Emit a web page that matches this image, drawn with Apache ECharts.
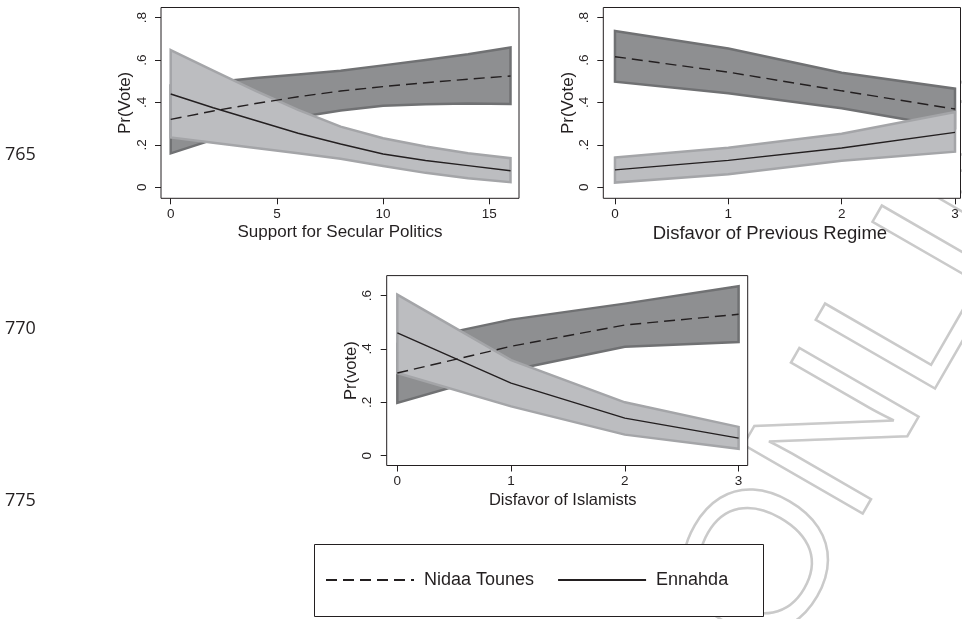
<!DOCTYPE html>
<html><head><meta charset="utf-8">
<script src="https://cdn.jsdelivr.net/npm/echarts@6/dist/echarts.min.js"></script>
<style>html,body{margin:0;padding:0;background:#fff}#c{width:962px;height:619px}</style>
</head><body><div id="c"></div><script>
// ---------- data ----------
const secularX = [0, 2, 4, 6, 8, 10, 12, 14, 16];
const secularNidaa     = [0.32, 0.36, 0.395, 0.427, 0.454, 0.475, 0.493, 0.51, 0.525];
const secularNidaaLo   = [0.16, 0.225, 0.28, 0.33, 0.362, 0.385, 0.392, 0.395, 0.393];
const secularNidaaHi   = [0.48, 0.495, 0.515, 0.532, 0.55, 0.575, 0.60, 0.627, 0.659];
const secularEnnahda   = [0.44, 0.375, 0.315, 0.255, 0.204, 0.157, 0.126, 0.102, 0.078];
const secularEnnahdaLo = [0.235, 0.21, 0.185, 0.16, 0.135, 0.1, 0.068, 0.043, 0.024];
const secularEnnahdaHi = [0.647, 0.55, 0.455, 0.365, 0.286, 0.231, 0.192, 0.16, 0.137];

const regimeX = [0, 1, 2, 3];
const regimeNidaa     = [0.616, 0.543, 0.455, 0.369];
const regimeNidaaLo   = [0.498, 0.443, 0.373, 0.28];
const regimeNidaaHi   = [0.737, 0.655, 0.54, 0.465];
const regimeEnnahda   = [0.082, 0.127, 0.185, 0.259];
const regimeEnnahdaLo = [0.022, 0.061, 0.125, 0.168];
const regimeEnnahdaHi = [0.14, 0.187, 0.252, 0.355];

const islamistX = [0, 1, 2, 3];
const islamistNidaa     = [0.31, 0.41, 0.49, 0.53];
const islamistNidaaLo   = [0.198, 0.32, 0.408, 0.426];
const islamistNidaaHi   = [0.42, 0.51, 0.57, 0.635];
const islamistEnnahda   = [0.46, 0.272, 0.141, 0.066];
const islamistEnnahdaLo = [0.31, 0.185, 0.079, 0.026];
const islamistEnnahdaHi = [0.604, 0.358, 0.2, 0.108];

const secularTicks = [0, 5, 10, 15];
const regimeTicks = [0, 1, 2, 3];
const islamistTicks = [0, 1, 2, 3];
const probTicks = [0, 0.2, 0.4, 0.6, 0.8];
const probTicks3 = [0, 0.2, 0.4, 0.6];

const seriesNames = ['Nidaa Tounes', 'Ennahda'];
const lineNumbers = ['765', '770', '775'];

// ---------- style ----------
const FONT = '"Liberation Sans", Arial, Helvetica, sans-serif';
const INK = '#231f20';
const DARK_FILL = '#8e8f91', DARK_EDGE = '#707173';
const LIGHT_FILL = '#bcbdc0', LIGHT_EDGE = '#a4a5a8';

function fmtProb(v) { return v === 0 ? '0' : String(+v.toFixed(1)).replace(/^0/, ''); }

function makeGrid(left, top, width, height) {
  return { left, top, width, height, show: true, borderColor: INK, borderWidth: 1, backgroundColor: '#ffffff' };
}
function makeX(idx, min, max, ticks, name, nameSize, shiftLeft) {
  return {
    type: 'value', gridIndex: idx, min, max, name, nameLocation: 'middle', nameGap: 26,
    nameTextStyle: { fontFamily: FONT, fontSize: nameSize, color: INK, padding: [0, shiftLeft * 2, 0, 0] },
    axisLine: { show: false, onZero: false }, splitLine: { show: false },
    axisTick: { show: true, inside: false, length: 6, lineStyle: { color: INK, width: 1 }, customValues: ticks },
    axisLabel: { show: true, customValues: ticks, fontFamily: FONT, fontSize: 13.5, color: INK, margin: 9, formatter: v => String(v) }
  };
}
function makeY(idx, min, max, ticks, name, nameSize, nameGap) {
  return {
    type: 'value', gridIndex: idx, min, max, name, nameLocation: 'middle', nameGap, nameRotate: 90,
    nameTextStyle: { fontFamily: FONT, fontSize: nameSize, color: INK },
    axisLine: { show: false, onZero: false }, splitLine: { show: false },
    axisTick: { show: true, inside: false, length: 6, lineStyle: { color: INK, width: 1 }, customValues: ticks },
    axisLabel: { show: true, customValues: ticks, rotate: 90, fontFamily: FONT, fontSize: 13.5, color: INK, margin: 12, formatter: fmtProb }
  };
}
function band(idx, xs, lo, hi, fill, edge, z) {
  return {
    type: 'custom', xAxisIndex: idx, yAxisIndex: idx, z, silent: true,
    data: xs.map((x, i) => [x, lo[i], hi[i]]),
    encode: { x: 0, y: [1, 2] },
    renderItem: function (params, api) {
      if (params.dataIndex !== 0) return null;
      const pts = [];
      for (let i = 0; i < xs.length; i++) pts.push(api.coord([xs[i], hi[i]]));
      for (let i = xs.length - 1; i >= 0; i--) pts.push(api.coord([xs[i], lo[i]]));
      return { type: 'polygon', shape: { points: pts }, style: { fill, stroke: edge, lineWidth: 2.5, lineJoin: 'miter' } };
    }
  };
}
function line(idx, name, xs, ys, dashed) {
  return {
    type: 'line', name, xAxisIndex: idx, yAxisIndex: idx, z: 5, symbol: 'none', silent: true,
    data: xs.map((x, i) => [x, ys[i]]),
    lineStyle: { color: INK, width: 1.4, type: dashed ? [11, 6] : 'solid' },
    itemStyle: { color: INK }
  };
}

const series = [
  band(0, secularX, secularNidaaLo, secularNidaaHi, DARK_FILL, DARK_EDGE, 2),
  band(0, secularX, secularEnnahdaLo, secularEnnahdaHi, LIGHT_FILL, LIGHT_EDGE, 3),
  line(0, seriesNames[0], secularX, secularNidaa, true),
  line(0, seriesNames[1], secularX, secularEnnahda, false),
  band(1, regimeX, regimeNidaaLo, regimeNidaaHi, DARK_FILL, DARK_EDGE, 2),
  band(1, regimeX, regimeEnnahdaLo, regimeEnnahdaHi, LIGHT_FILL, LIGHT_EDGE, 3),
  line(1, seriesNames[0], regimeX, regimeNidaa, true),
  line(1, seriesNames[1], regimeX, regimeEnnahda, false),
  band(2, islamistX, islamistNidaaLo, islamistNidaaHi, DARK_FILL, DARK_EDGE, 2),
  band(2, islamistX, islamistEnnahdaLo, islamistEnnahdaHi, LIGHT_FILL, LIGHT_EDGE, 3),
  line(2, seriesNames[0], islamistX, islamistNidaa, true),
  line(2, seriesNames[1], islamistX, islamistEnnahda, false)
];

const option = {
  animation: false,
  backgroundColor: '#ffffff',
  grid: [
    makeGrid(161, 7.5, 358, 190.8),
    makeGrid(603.3, 7.5, 357.2, 190.8),
    makeGrid(386.7, 275.6, 361, 189.9)
  ],
  xAxis: [
    makeX(0, -0.457, 16.4, secularTicks, 'Support for Secular Politics', 17, 0),
    makeX(1, -0.103, 3.0485, regimeTicks, 'Disfavor of Previous Regime', 18.5, 12),
    makeX(2, -0.0934, 3.08, islamistTicks, 'Disfavor of Islamists', 16.5, 4.5)
  ],
  yAxis: [
    makeY(0, -0.052, 0.848, probTicks, 'Pr(Vote)', 17, 26),
    makeY(1, -0.052, 0.848, probTicks, 'Pr(Vote)', 17, 26),
    makeY(2, -0.0367, 0.675, probTicks3, 'Pr(vote)', 16.5, 22)
  ],
  legend: {
    data: seriesNames, left: 325, top: 571, padding: 0, itemWidth: 88, itemHeight: 14, itemGap: 23,
    selectedMode: false, itemStyle: { opacity: 0, borderWidth: 0 },
    textStyle: { fontFamily: FONT, fontSize: 18, color: INK, padding: [0, 0, 0, 5] }
  },
  graphic: [
    { type: 'text', z: -10, zlevel: 0, silent: true, x: 729, y: 635, rotation: 60 * Math.PI / 180,
      style: { text: 'ONLINE', font: '200px "Liberation Sans", Arial, sans-serif', fill: 'rgba(0,0,0,0)', stroke: '#cacaca', lineWidth: 2.5, textAlign: 'left', textVerticalAlign: 'middle' } },
    { type: 'rect', z: 0, silent: true, shape: { x: 314.5, y: 544.5, width: 449, height: 72 },
      style: { fill: '#ffffff', stroke: INK, lineWidth: 1 } },
    { type: 'text', silent: true, x: 5, y: 155, style: { text: lineNumbers[0], font: '18px "Open Sans", sans-serif', fill: INK, textVerticalAlign: 'middle' } },
    { type: 'text', silent: true, x: 5, y: 329, style: { text: lineNumbers[1], font: '18px "Open Sans", sans-serif', fill: INK, textVerticalAlign: 'middle' } },
    { type: 'text', silent: true, x: 5, y: 501, style: { text: lineNumbers[2], font: '18px "Open Sans", sans-serif', fill: INK, textVerticalAlign: 'middle' } }
  ],
  series
};
const chart = echarts.init(document.getElementById('c'), null, { renderer: 'canvas' });
chart.setOption(option);
</script></body></html>
